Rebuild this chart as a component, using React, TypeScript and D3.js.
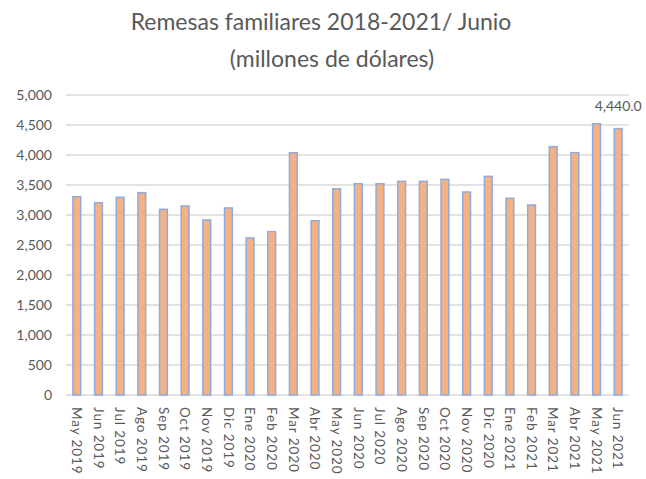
import * as d3 from 'd3'
import React from 'react'

const months = [
  'May 2019', 'Jun 2019', 'Jul 2019', 'Ago 2019', 'Sep 2019', 'Oct 2019', 'Nov 2019', 'Dic 2019',
  'Ene 2020', 'Feb 2020', 'Mar 2020', 'Abr 2020', 'May 2020', 'Jun 2020', 'Jul 2020', 'Ago 2020',
  'Sep 2020', 'Oct 2020', 'Nov 2020', 'Dic 2020', 'Ene 2021', 'Feb 2021', 'Mar 2021', 'Abr 2021',
  'May 2021', 'Jun 2021',
]

// millones de dólares
const remesas = [
  3305, 3205, 3295, 3372, 3095, 3150, 2917, 3117,
  2617, 2722, 4038, 2905, 3438, 3522, 3522, 3561,
  3561, 3594, 3383, 3644, 3278, 3167, 4139, 4039,
  4522, 4440,
]

const yTicks = [0, 500, 1000, 1500, 2000, 2500, 3000, 3500, 4000, 4500, 5000]

const W = 646
const H = 479
const margin = { top: 95, right: 17, bottom: 84, left: 66 }

const font = 'Lato, "Open Sans", sans-serif'
const grey = '#595959'

const App = () => {
  const xScale = d3
    .scaleBand<string>()
    .domain(months)
    .range([margin.left, W - margin.right])
    .paddingInner(0.64)
    .paddingOuter(0.32)

  const yScale = d3
    .scaleLinear()
    .domain([0, 5000])
    .range([H - margin.bottom, margin.top])

  const fmt = d3.format(',')
  const lastIdx = months.length - 1

  return (
    <svg width={W} height={H} style={{ position: 'absolute', left: 0, top: 0, background: '#fff' }}>
      <text x={321} y={30} textAnchor="middle" fontFamily={font} fontSize={23} fill={grey}>
        Remesas familiares 2018-2021/ Junio
      </text>
      <text x={332} y={67} textAnchor="middle" fontFamily={font} fontSize={23} fill={grey}>
        (millones de dólares)
      </text>

      {/* grid */}
      <g>
        {yTicks.map((t) => (
          <g key={t}>
            <line
              x1={margin.left}
              x2={W - margin.right}
              y1={yScale(t)}
              y2={yScale(t)}
              stroke="#d9d9d9"
              strokeWidth={1.3}
            />
            <text
              x={52}
              y={yScale(t)}
              dy="0.35em"
              textAnchor="end"
              fontFamily={font}
              fontSize={14}
              fill={grey}
            >
              {fmt(t)}
            </text>
          </g>
        ))}
      </g>

      {/* bars */}
      <g>
        {months.map((m, i) => (
          <rect
            key={m}
            x={xScale(m)!}
            y={yScale(remesas[i])}
            width={xScale.bandwidth()}
            height={yScale(0) - yScale(remesas[i])}
            fill="#f4b183"
            stroke="#8faadc"
            strokeWidth={1.5}
          />
        ))}
      </g>

      <text
        x={xScale(months[lastIdx])! + xScale.bandwidth() / 2}
        y={yScale(remesas[lastIdx]) - 18}
        textAnchor="middle"
        fontFamily={font}
        fontSize={14}
        fill={grey}
      >
        {d3.format(',.1f')(remesas[lastIdx])}
      </text>

      {/* x labels */}
      <g>
        {months.map((m) => {
          const cx = xScale(m)! + xScale.bandwidth() / 2
          return (
            <text
              key={m}
              transform={`translate(${cx},${yScale(0) + 12}) rotate(90)`}
              dy="0.35em"
              fontFamily={font}
              fontSize={13.5}
              letterSpacing={0.9}
              fill={grey}
            >
              {m}
            </text>
          )
        })}
      </g>
    </svg>
  )
}

export default App
